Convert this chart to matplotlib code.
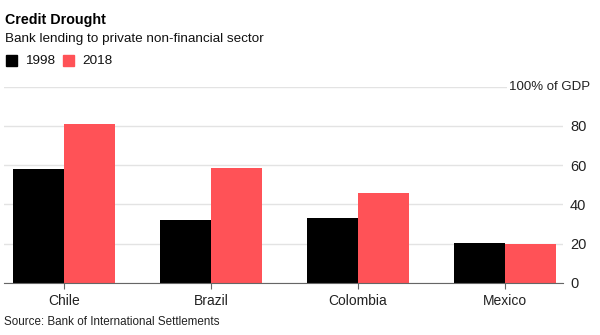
import matplotlib
matplotlib.use("Agg")
import matplotlib.pyplot as plt
import numpy as np
from matplotlib.patches import Rectangle

plt.rcParams['font.family'] = ['Liberation Sans', 'DejaVu Sans']

countries = ["Chile", "Brazil", "Colombia", "Mexico"]
years = ["1998", "2018"]
lending_1998 = [58, 32, 33, 20.5]
lending_2018 = [81, 58.5, 46, 20]
y_ticks = [0, 20, 40, 60, 80]

W, H = 600, 335
fig = plt.figure(figsize=(6, 3.35), dpi=100)
ax = fig.add_axes([4 / W, 1 - 283 / H, 559 / W, (283 - 86.5) / H])

x = np.arange(len(countries))
bw = 0.347
c98, c18 = "#000000", "#ff5257"
ax.bar(x - bw / 2, lending_1998, width=bw, color=c98, zorder=3)
ax.bar(x + bw / 2, lending_2018, width=bw, color=c18, zorder=3)

ax.set_xlim(-0.408, 3.394)
ax.set_ylim(0, 100)
ax.set_yticks(y_ticks + [100])
ax.set_yticklabels([str(v) for v in y_ticks] + [""])
ax.yaxis.tick_right()
ax.tick_params(axis="y", length=0, pad=5, labelsize=10.5, labelcolor="#222222")
ax.set_xticks(x)
ax.set_xticklabels(countries)
ax.tick_params(axis="x", length=4, color="#666666", pad=4, labelsize=10, labelcolor="#222222")
ax.grid(axis="y", color="#e3e3e3", linewidth=1, zorder=0)
for s in ["top", "left", "right"]:
    ax.spines[s].set_visible(False)
ax.spines["bottom"].set_color("#666666")
ax.spines["bottom"].set_zorder(4)

fig.text(590 / W, 1 - 86.5 / H, "100% of GDP", ha="right", va="center",
         fontsize=9.5, color="#222222",
         bbox=dict(facecolor="white", edgecolor="none", pad=1))

fig.text(5 / W, 1 - 20 / H, "Credit Drought", fontsize=10.3, fontweight="bold",
         ha="left", va="center", color="#000000")
fig.text(5 / W, 1 - 39 / H, "Bank lending to private non-financial sector",
         fontsize=9.7, ha="left", va="center", color="#111111")

# legend
for i, (lab, col) in enumerate(zip(years, [c98, c18])):
    x0 = [6, 63][i]
    fig.patches.append(Rectangle((x0 / W, 1 - 66 / H), 11 / W, 11 / H,
                                 transform=fig.transFigure, color=col))
    fig.text((x0 + 19) / W, 1 - 60.5 / H, lab, fontsize=9.7, ha="left",
             va="center", color="#111111")

fig.text(4 / W, 1 - 322 / H, "Source: Bank of International Settlements",
         fontsize=8.4, ha="left", va="center", color="#222222")

fig.savefig("out.png", dpi=100, facecolor="white")
